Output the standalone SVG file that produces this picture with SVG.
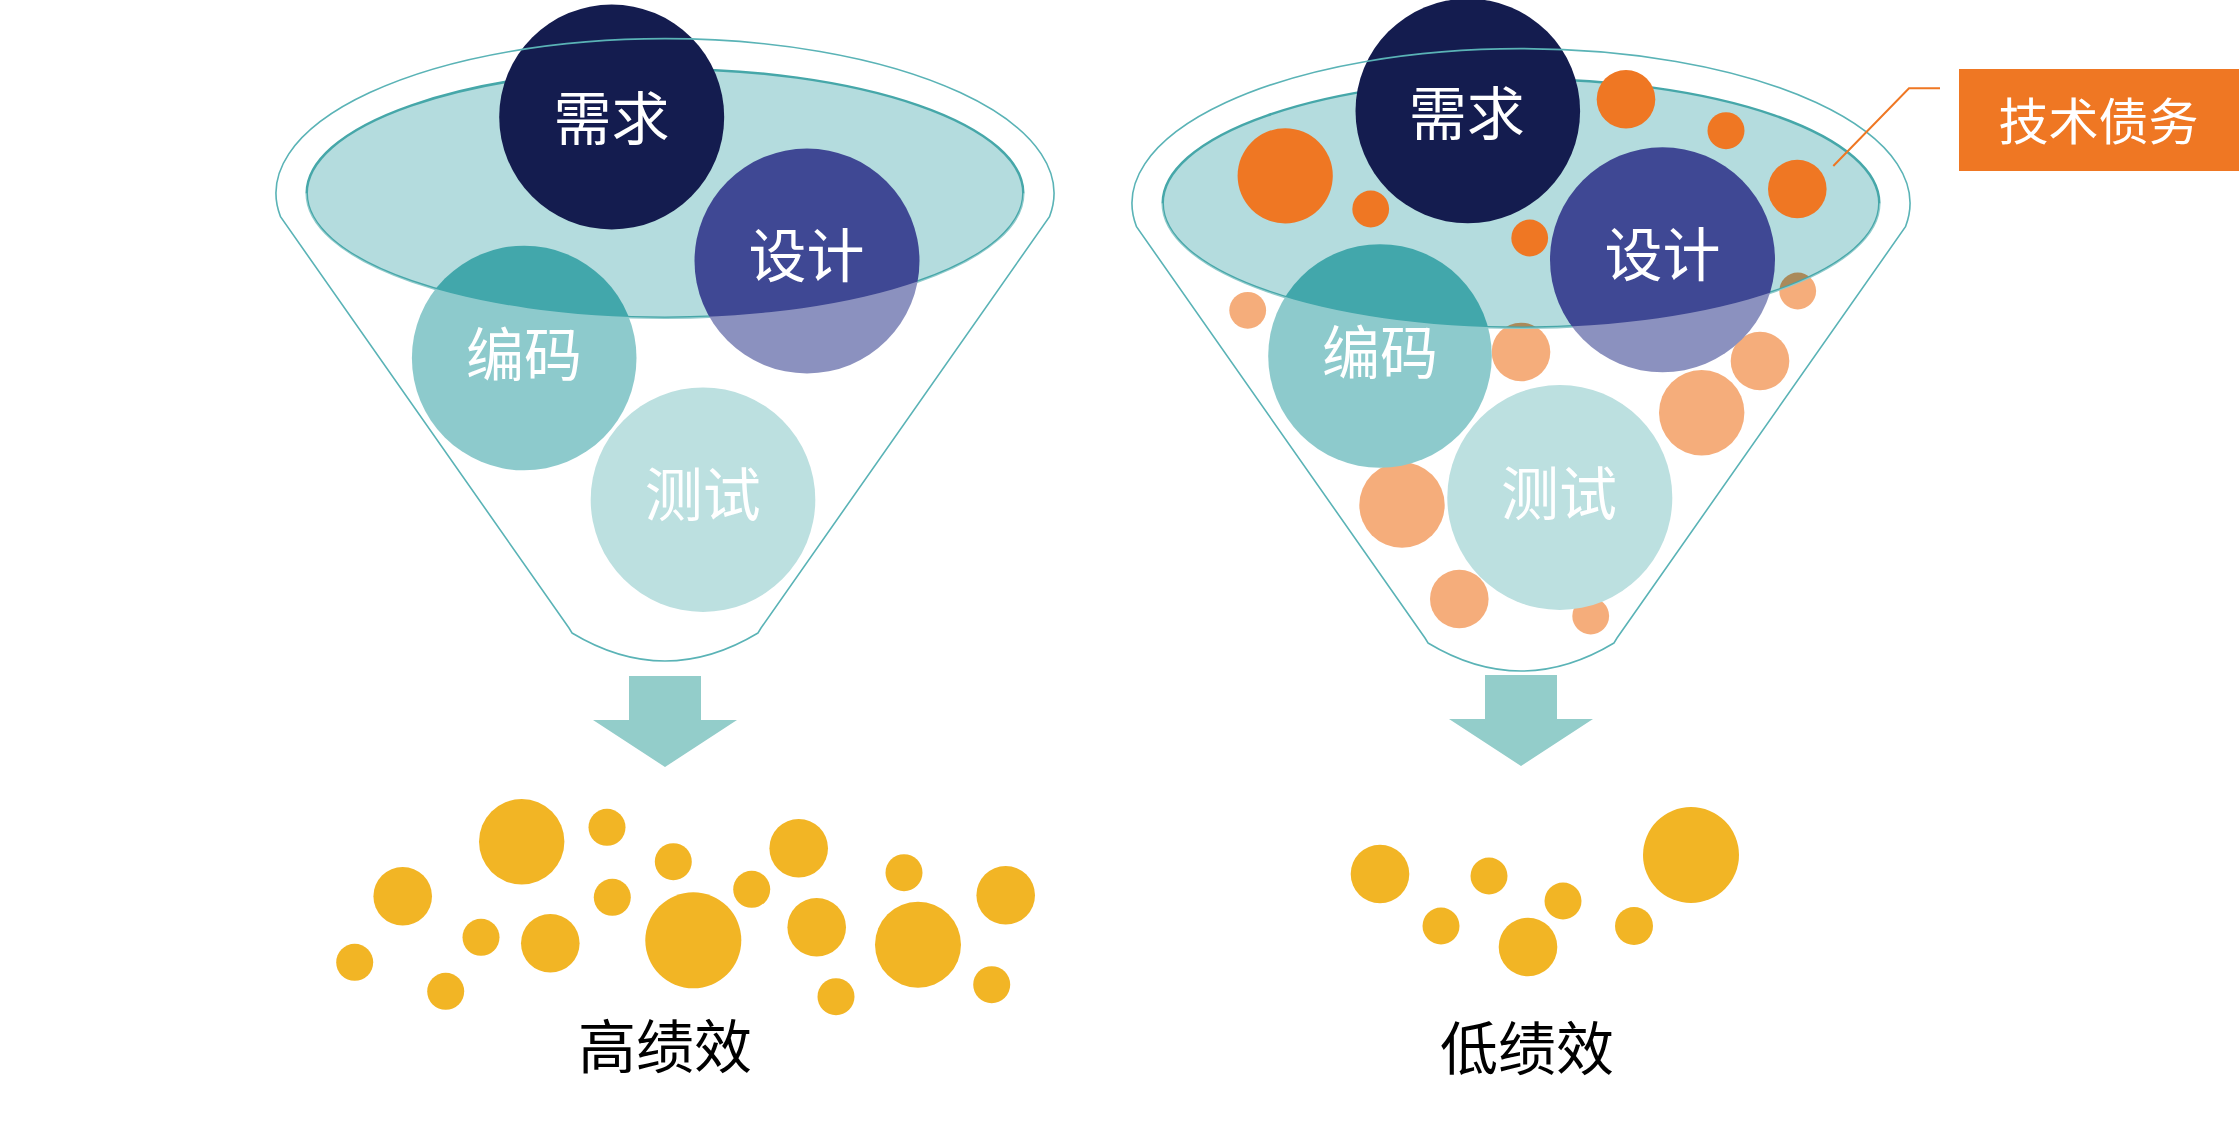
<svg xmlns="http://www.w3.org/2000/svg" width="2239" height="1127" viewBox="0 0 2239 1127">
<style>
.outline{fill:none;stroke:#5ab3b6;stroke-width:1.6}
.bowl{fill:#43a8ac;fill-opacity:0.4;stroke:#46a7a9;stroke-width:2.5}
.veil{fill:#ffffff;fill-opacity:0.4}
.navy{fill:#141c4f}
.design{fill:#3f4894}
.code{fill:#42a7ab}
.test{fill:#8fcbcb}
.debt{fill:#ef7723}
.gold{fill:#f2b525}
.arrow{fill:#93cdca}
.lbl{font-family:"Noto Sans CJK SC","Noto Sans",sans-serif;font-size:58px;fill:#ffffff;text-anchor:middle}
.perf{font-family:"Noto Sans CJK SC","Noto Sans",sans-serif;font-size:58px;fill:#000000;text-anchor:middle}
.tag{font-family:"Noto Sans CJK SC","Noto Sans",sans-serif;font-size:50px;fill:#ffffff;text-anchor:middle}
</style>
<defs>
<path id="funnel-outline" d="M 569 628 L 280.5 216.7 A 389 154.6 0 1 1 1049.5 216.7 L 761 628 L 758 633 Q 665 689 572 633 Z"/>
<ellipse id="funnel-bowl" cx="665" cy="193.3" rx="358.3" ry="124.4"/>
<path id="funnel-veil" d="M 260 193.3 L 306.7 193.3 A 358.3 124.4 0 0 0 1023.3 193.3 L 1070 193.3 L 1070 670 L 260 670 Z"/>
</defs>

<!-- Left funnel: high performance -->
<g id="funnel-high">
  <use href="#funnel-bowl" class="bowl"/>
  <g id="high-requirement"><circle class="navy" cx="611.7" cy="117" r="112.5"/></g>
  <g id="high-design"><circle class="design" cx="807" cy="261" r="112.5"/></g>
  <g id="high-coding"><circle class="code" cx="524.2" cy="358" r="112.3"/></g>
  <g id="high-testing"><circle class="test" cx="703" cy="499.7" r="112.3"/></g>
  <use href="#funnel-veil" class="veil"/>
  <use href="#funnel-outline" class="outline"/>
  <text class="lbl" x="611.5" y="140.3">需求</text>
  <text class="lbl" x="806.5" y="277">设计</text>
  <text class="lbl" x="524" y="375.5">编码</text>
  <text class="lbl" x="702.8" y="516.2">测试</text>
</g>

<!-- Right funnel: low performance with technical debt -->
<g id="funnel-low">
  <g id="debt-behind">
    <circle class="debt" cx="1521" cy="352" r="29.3"/>
    <circle class="debt" cx="1797.7" cy="291" r="18.4"/>
  </g>
  <use href="#funnel-bowl" class="bowl" transform="translate(856 10)"/>
  <g id="debt-front">
    <circle class="debt" cx="1285.2" cy="175.8" r="47.6"/>
    <circle class="debt" cx="1370.7" cy="209" r="18.4"/>
    <circle class="debt" cx="1626" cy="99.3" r="29.3"/>
    <circle class="debt" cx="1726" cy="130.7" r="18.5"/>
    <circle class="debt" cx="1797.3" cy="189" r="29.3"/>
    <circle class="debt" cx="1529.7" cy="238" r="18.4"/>
    <circle class="debt" cx="1247.7" cy="310.3" r="18.4"/>
    <circle class="debt" cx="1760" cy="361" r="29.3"/>
    <circle class="debt" cx="1701.7" cy="412.7" r="42.7"/>
    <circle class="debt" cx="1402" cy="505" r="42.7"/>
    <circle class="debt" cx="1459.3" cy="599" r="29.3"/>
    <circle class="debt" cx="1590.7" cy="616" r="18.4"/>
  </g>
  <g id="low-requirement"><circle class="navy" cx="1467.8" cy="111" r="112.3"/></g>
  <g id="low-design"><circle class="design" cx="1662.5" cy="259.8" r="112.5"/></g>
  <g id="low-coding"><circle class="code" cx="1380" cy="356" r="111.8"/></g>
  <g id="low-testing"><circle class="test" cx="1559.8" cy="497.5" r="112.5"/></g>
  <use href="#funnel-veil" class="veil" transform="translate(856 10)"/>
  <use href="#funnel-outline" class="outline" transform="translate(856 10)"/>
  <text class="lbl" x="1466.7" y="135.3">需求</text>
  <text class="lbl" x="1662.5" y="276">设计</text>
  <text class="lbl" x="1380" y="373.7">编码</text>
  <text class="lbl" x="1559" y="514.5">测试</text>
</g>

<!-- Callout -->
<g id="tech-debt-label">
  <rect x="1959" y="69" width="280" height="102" fill="#ef7723"/>
  <text class="tag" x="2098.5" y="140">技术债务</text>
</g>

<g id="connectors">
  <polyline points="1833.3,166 1909,88.3 1940,88.3" fill="none" stroke="#ef7723" stroke-width="2"/>
  <polygon class="arrow" points="629,676 701,676 701,720 737,720 665,767 593,720 629,720"/>
  <polygon class="arrow" points="1485,675 1557,675 1557,719 1593,719 1521,766 1449,719 1485,719"/>
</g>

<!-- Outputs -->
<g id="output-high">
  <circle class="gold" cx="521.7" cy="841.7" r="42.7"/>
  <circle class="gold" cx="607" cy="827.3" r="18.5"/>
  <circle class="gold" cx="673.3" cy="861.7" r="18.5"/>
  <circle class="gold" cx="402.7" cy="896.3" r="29.3"/>
  <circle class="gold" cx="612.3" cy="897.3" r="18.5"/>
  <circle class="gold" cx="693.3" cy="940.3" r="48"/>
  <circle class="gold" cx="481" cy="937.3" r="18.5"/>
  <circle class="gold" cx="550.3" cy="943.3" r="29.3"/>
  <circle class="gold" cx="354.7" cy="962.3" r="18.5"/>
  <circle class="gold" cx="445.7" cy="991.3" r="18.5"/>
  <circle class="gold" cx="798.7" cy="848.3" r="29.3"/>
  <circle class="gold" cx="751.7" cy="889.3" r="18.5"/>
  <circle class="gold" cx="816.7" cy="927.3" r="29.3"/>
  <circle class="gold" cx="904" cy="872.7" r="18.5"/>
  <circle class="gold" cx="918" cy="944.7" r="43"/>
  <circle class="gold" cx="1005.7" cy="895.3" r="29.3"/>
  <circle class="gold" cx="836" cy="996.7" r="18.5"/>
  <circle class="gold" cx="991.7" cy="984.7" r="18.5"/>
  <text class="perf" x="665" y="1068">高绩效</text>
</g>

<g id="output-low">
  <circle class="gold" cx="1380" cy="874" r="29.3"/>
  <circle class="gold" cx="1441" cy="926" r="18.5"/>
  <circle class="gold" cx="1489" cy="876" r="18.5"/>
  <circle class="gold" cx="1528" cy="947" r="29.3"/>
  <circle class="gold" cx="1563" cy="901" r="18.5"/>
  <circle class="gold" cx="1634" cy="926" r="19"/>
  <circle class="gold" cx="1691" cy="855" r="48"/>
  <text class="perf" x="1527" y="1069.5">低绩效</text>
</g>
</svg>
